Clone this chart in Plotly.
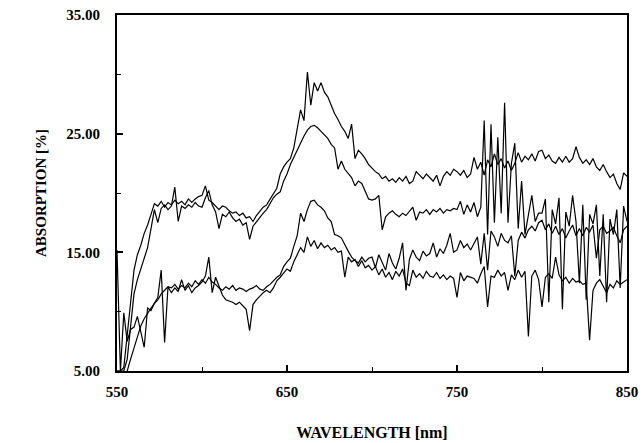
import plotly.graph_objects as go

# wavelengths sampled every 2 nm from 550 to 850 nm
wavelength = list(range(550, 851, 2))

series_a = [
    5.0, 5.0, 5.3, 8.0, 11.0, 13.5, 14.8, 15.6, 16.6, 17.3, 18.2, 19.1, 18.9, 19.3, 18.8, 19.2, 19.0, 19.4, 19.1, 19.3, 19.0, 19.5, 19.2, 19.5, 19.7,
    19.8, 20.6, 19.4, 19.2, 18.9, 18.6, 18.9, 18.8, 18.5, 18.3, 18.4, 18.1, 18.3, 17.9, 18.0, 17.6, 18.1, 18.5, 18.8, 19.0, 19.5, 20.0, 20.4, 21.6, 22.2,
    22.6, 22.9, 23.8, 25.3, 27.0, 26.1, 30.2, 27.4, 29.3, 28.6, 29.3, 28.5, 28.1, 27.4, 26.7, 26.2, 25.6, 25.2, 24.6, 25.8, 22.9, 23.6, 23.3, 22.9, 22.4,
    22.1, 21.8, 21.6, 21.2, 21.4, 21.0, 21.2, 20.9, 21.3, 21.0, 21.4, 20.8, 21.0, 21.8, 21.5, 21.2, 21.6, 21.3, 21.0, 21.5, 20.6, 21.4, 21.8, 21.5, 22.0,
    21.8, 21.5, 21.9, 21.3, 21.6, 23.0, 22.0, 22.6, 21.5, 22.8, 22.2, 23.3, 22.4, 22.9, 22.1, 22.7, 21.9, 22.5, 23.4, 22.6, 23.1, 22.8, 23.3, 22.7, 23.5,
    23.6, 22.9, 23.2, 22.7, 22.5, 23.0, 22.6, 23.1, 22.6, 22.9, 23.9, 23.0, 22.5, 22.8, 22.4, 22.9, 22.2, 21.9, 22.4, 21.8, 21.3, 21.6, 20.8, 20.3, 21.7, 21.4,
]

series_b = [
    5.0, 5.0, 5.0, 6.0, 9.0, 11.5, 12.7, 13.6, 14.3, 15.4, 17.0, 18.6, 17.5, 18.7, 19.0, 18.6, 18.9, 20.5, 17.6, 18.9, 18.7, 19.0, 18.8, 19.2, 18.9,
    18.8, 19.6, 20.2, 19.0, 18.4, 17.0, 18.2, 18.0, 18.4, 17.9, 17.6, 17.8, 17.3, 17.5, 16.1, 17.2, 17.6, 17.9, 18.3, 18.6, 19.1, 19.6, 19.9, 20.1, 21.0,
    21.6, 22.4, 23.0, 23.7, 24.3, 24.8, 25.3, 25.6, 25.7, 25.5, 25.2, 24.9, 24.6, 24.1, 23.8, 22.0, 22.7, 22.0, 21.6, 21.3, 20.6, 21.0, 20.8, 20.1, 19.5,
    19.4, 19.5, 19.8, 16.9, 18.0, 18.3, 18.5, 18.2, 18.0, 18.3, 18.1, 18.5, 18.8, 17.7, 18.4, 18.3, 18.6, 18.2, 18.6, 18.4, 18.7, 18.3, 18.6, 18.5, 18.7,
    18.6, 19.3, 18.2, 19.0, 18.4, 19.2, 18.0, 18.8, 26.1, 16.5, 25.8, 17.5, 24.7, 18.3, 27.6, 17.5, 22.5, 24.2, 17.0, 21.0, 16.5, 18.0, 19.8, 17.6, 18.3,
    18.3, 19.5, 10.8, 18.6, 17.4, 19.6, 10.2, 18.4, 17.2, 19.8, 17.6, 12.4, 19.0, 11.0, 18.2, 17.4, 19.0, 13.0, 18.2, 10.8, 17.8, 16.5, 18.6, 12.0, 18.9, 17.6,
]

series_c = [
    5.0, 4.5, 4.5, 5.0, 6.0, 7.0, 7.9, 8.8, 9.4, 9.9, 10.3, 10.7, 11.0, 11.5, 11.8, 12.1, 12.0, 12.3, 11.9, 12.2, 12.0, 12.4, 12.1, 12.6, 12.3,
    12.7, 12.4, 12.9, 12.5, 12.3, 12.0, 11.8, 12.1, 11.9, 12.2, 11.8, 12.0, 11.9, 11.7, 11.9, 12.0, 12.2, 11.9, 11.8, 12.1, 12.3, 12.6, 12.9, 13.1, 13.8,
    14.2, 14.5, 15.5, 16.4, 18.3, 17.6, 18.6, 19.3, 19.4, 19.0, 18.8, 18.5, 17.9, 17.6, 16.5, 16.4, 16.2, 15.6, 15.1, 14.6, 14.3, 14.1, 14.6, 14.2, 14.5,
    14.6, 13.7, 14.8, 14.2, 13.5, 14.9, 14.1, 13.6, 14.5, 15.8, 11.8, 14.4, 15.2, 14.6, 14.3, 15.1, 14.7, 14.9, 15.8, 14.6, 15.3, 14.9, 15.6, 16.6, 15.0,
    15.2, 16.0, 15.4, 15.7, 15.2, 15.8, 16.3, 14.0, 16.6, 13.5, 16.8, 16.3, 15.5, 16.6, 16.0, 15.8, 16.4, 13.0, 16.0, 16.7, 16.2, 16.9, 17.2, 16.8, 17.5,
    17.7, 16.9, 17.4, 16.6, 17.2, 16.5, 17.0, 16.2, 16.8, 17.3, 16.4, 17.0, 16.4, 17.1, 16.7, 17.3, 14.5, 16.9, 17.2, 16.6, 16.8, 17.1, 16.4, 15.8, 16.9, 17.2,
]

series_d = [
    15.2, 5.0, 9.9, 7.5, 8.5, 8.7, 9.6, 8.4, 7.0, 10.3, 10.1, 10.7, 11.2, 13.5, 7.4, 12.1, 11.6, 12.0, 11.7, 12.7, 11.8, 12.2, 11.6, 12.0, 12.2,
    12.5, 13.0, 14.6, 11.6, 12.9, 12.1, 11.4, 11.0, 10.9, 10.8, 10.6, 10.8, 10.5, 10.2, 8.4, 10.6, 11.0, 11.3, 11.6, 11.8, 11.6, 12.0, 12.6, 12.9, 13.3,
    13.6, 13.4, 14.2, 14.8, 15.4, 15.0, 16.3, 15.5, 16.0, 15.3, 15.8, 15.4, 15.6, 15.2, 15.4, 15.0, 15.1, 12.9, 14.6, 14.2, 14.4, 13.8, 14.3, 13.7, 13.9,
    13.5, 13.8, 13.1, 13.6, 12.9, 13.3, 12.7, 13.4, 13.0, 13.6, 12.4, 12.2, 13.5, 12.9, 13.2, 12.8, 13.4, 13.0, 12.9, 13.3, 12.8, 13.1, 12.7, 13.0, 12.8,
    11.2, 13.3, 12.6, 13.0, 12.9, 12.8, 12.4, 13.2, 13.8, 10.4, 13.0, 12.9, 13.5, 13.0, 13.3, 11.8, 13.1, 12.7, 13.5, 12.9, 13.4, 7.9, 13.0, 13.5, 12.7,
    10.4, 12.9, 13.2, 12.8, 14.6, 13.1, 12.6, 12.9, 12.4, 12.8, 12.5, 12.6, 12.3, 12.4, 7.6, 11.8, 12.4, 12.7, 12.1, 11.6, 12.3, 12.0, 12.6, 12.3, 12.5, 12.7,
]

x_tickvals = [550, 650, 750, 850]
x_ticktext = ["550", "650", "750", "850"]
y_tickvals = [5, 15, 25, 35]
y_ticktext = ["5.00", "15.00", "25.00", "35.00"]

font_family = "Liberation Serif, Times New Roman, serif"

fig = go.Figure()
for ys in (series_a, series_b, series_c, series_d):
    fig.add_trace(go.Scatter(x=wavelength, y=ys, mode="lines",
                             line=dict(color="black", width=1.2),
                             showlegend=False, hoverinfo="skip"))

axis_common = dict(
    showline=True, linecolor="black", linewidth=2, mirror=True,
    showgrid=False, zeroline=False, ticks="inside", tickcolor="black",
    ticklen=6, tickwidth=1.5, automargin=False,
    tickfont=dict(family=font_family, size=15, color="black", weight="bold"),
)

fig.update_xaxes(
    range=[550, 850], tickmode="array", tickvals=x_tickvals, ticktext=x_ticktext,
    minor=dict(ticks="inside", dtick=50, tick0=550, ticklen=4, tickcolor="black", tickwidth=1.2),
    title=dict(text="WAVELENGTH [nm]", standoff=28,
               font=dict(family=font_family, size=16, color="black", weight="bold")),
    ticklabelstandoff=6,
    **axis_common,
)
fig.update_yaxes(
    range=[5, 35], tickmode="array", tickvals=y_tickvals, ticktext=y_ticktext,
    minor=dict(ticks="inside", dtick=5, tick0=5, ticklen=4, tickcolor="black", tickwidth=1.2),
    title=dict(text="ABSORPTION [%]", standoff=16,
               font=dict(family=font_family, size=15, color="black", weight="bold")),
    ticklabelstandoff=12,
    **axis_common,
)

fig.update_layout(
    width=644, height=443,
    margin=dict(l=117, r=17, t=15, b=72),
    paper_bgcolor="white", plot_bgcolor="white",
    font=dict(family=font_family, color="black"),
)

fig.write_html("out.html", config={"displayModeBar": False},
               post_script="document.body.style.margin='0';document.body.style.padding='0';")
